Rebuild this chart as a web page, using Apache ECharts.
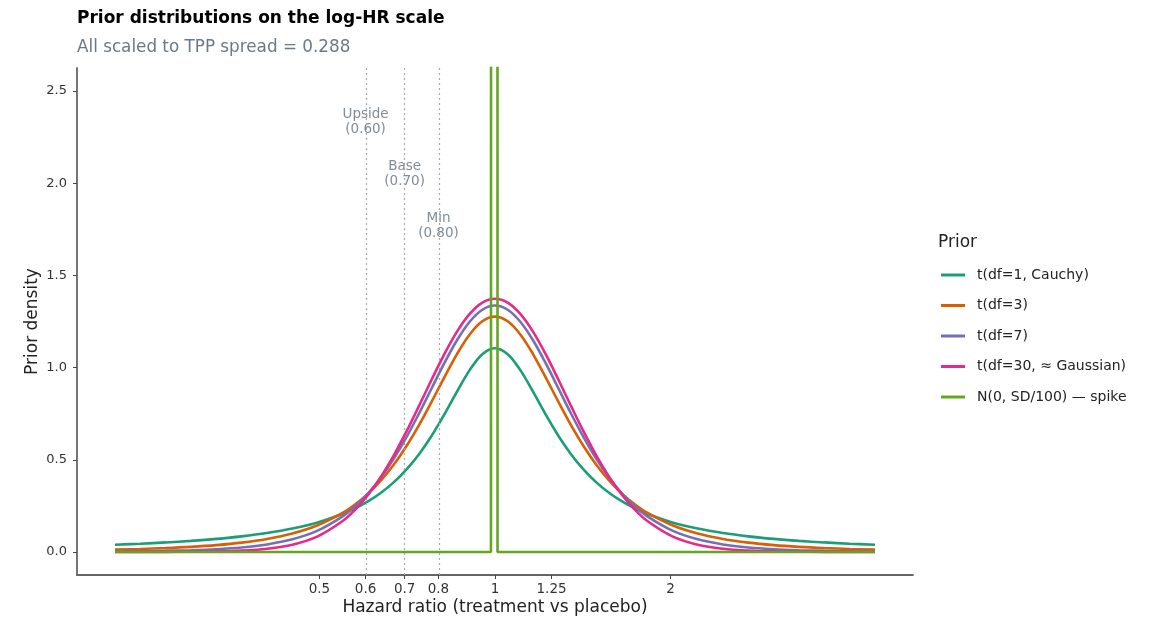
<!DOCTYPE html>
<html>
<head>
<meta charset="utf-8">
<script src="https://cdn.jsdelivr.net/npm/echarts@6/dist/echarts.min.js"></script>
<style>
html,body{margin:0;padding:0;background:#fff;}
#chart{width:1150px;height:619px;}
</style>
</head>
<body>
<div id="chart"></div>
<script>
// x grid on the log-HR scale
const logHR = [-1.5,-1.4,-1.3,-1.2,-1.1,-1.0,-0.9,-0.8,-0.7,-0.6,-0.55,-0.5,-0.45,-0.4,-0.35,-0.3,-0.25,-0.2,-0.15,-0.1,-0.05,0,0.05,0.1,0.15,0.2,0.25,0.3,0.35,0.4,0.45,0.5,0.55,0.6,0.7,0.8,0.9,1.0,1.1,1.2,1.3,1.4,1.5];
const densCauchy = [0.0393,0.0449,0.0517,0.0602,0.0709,0.0847,0.1027,0.1268,0.1600,0.2070,0.2378,0.2753,0.3211,0.3773,0.4462,0.5301,0.6303,0.7456,0.8694,0.9863,1.0729,1.1052,1.0729,0.9863,0.8694,0.7456,0.6303,0.5301,0.4462,0.3773,0.3211,0.2753,0.2378,0.2070,0.1600,0.1268,0.1027,0.0847,0.0709,0.0602,0.0517,0.0449,0.0393];
const densT3 = [0.0127,0.0162,0.0210,0.0277,0.0371,0.0507,0.0705,0.1000,0.1448,0.2132,0.2600,0.3176,0.3880,0.4728,0.5732,0.6884,0.8154,0.9473,1.0735,1.1797,1.2511,1.2764,1.2511,1.1797,1.0735,0.9473,0.8154,0.6884,0.5732,0.4728,0.3880,0.3176,0.2600,0.2132,0.1448,0.1000,0.0705,0.0507,0.0371,0.0277,0.0210,0.0162,0.0127];
const densT7 = [0.0024,0.0037,0.0057,0.0091,0.0148,0.0243,0.0406,0.0684,0.1156,0.1941,0.2498,0.3191,0.4039,0.5049,0.6215,0.7510,0.8880,1.0240,1.1481,1.2484,1.3139,1.3367,1.3139,1.2484,1.1481,1.0240,0.8880,0.7510,0.6215,0.5049,0.4039,0.3191,0.2498,0.1941,0.1156,0.0684,0.0406,0.0243,0.0148,0.0091,0.0057,0.0037,0.0024];
const densT30 = [0.0001,0.0002,0.0005,0.0012,0.0029,0.0073,0.0175,0.0395,0.0847,0.1692,0.2320,0.3114,0.4085,0.5229,0.6522,0.7920,0.9352,1.0729,1.1948,1.2909,1.3525,1.3737,1.3525,1.2909,1.1948,1.0729,0.9352,0.7920,0.6522,0.5229,0.4085,0.3114,0.2320,0.1692,0.0847,0.0395,0.0175,0.0073,0.0029,0.0012,0.0005,0.0002,0.0001];
// spike prior N(0, SD/100)
const spikeX = [-1.5,-0.016,0,0.010,1.5];
const spikeY = [0,0,138.5,0,0];

const seriesNames = ['t(df=1, Cauchy)','t(df=3)','t(df=7)','t(df=30, \u2248 Gaussian)','N(0, SD/100) \u2014 spike'];
const seriesColors = ['#1B9E77','#D95F02','#7570B3','#E7298A','#66A61E'];

// x tick labels (hazard ratio)
const tickHR = [0.5,0.6,0.7,0.8,1,1.25,2];
const tickLabels = ['0.5','0.6','0.7','0.8','1','1.25','2'];
const yTicks = [0,0.5,1,1.5,2,2.5];

// scenario reference lines
const scenHR = [0.6,0.7,0.8];
const scenNames = ['Upside','Base','Min'];
const scenLabels = ['0.60','0.70','0.80'];
const scenLabelY = [2.332,2.048,1.767];

const FONT = 'DejaVu Sans';
const zip = (xs, ys) => xs.map((x,i)=>[x, ys[i]]);
const curves = [densCauchy, densT3, densT7, densT30];

const series = curves.map((d,i)=>({
  name: seriesNames[i], type:'line', data: zip(logHR, d),
  smooth: 0.35, showSymbol:false, symbol:'none',
  lineStyle:{color:seriesColors[i], width:2.6}, itemStyle:{color:seriesColors[i]}, z: 3+i
}));
series.push({
  name: seriesNames[4], type:'line', data: zip(spikeX, spikeY), showSymbol:false, symbol:'none',
  lineStyle:{color:seriesColors[4], width:2.6}, itemStyle:{color:seriesColors[4]}, z: 8, clip:true
});
series.push({
  name:'scenarios', type:'scatter', symbolSize:0, z:2,
  data: scenHR.map((h,i)=>({value:[Math.log(h), scenLabelY[i]], name: scenNames[i], lab: scenLabels[i]})),
  label:{show:true, position:'inside', fontFamily:FONT, fontSize:13.5, color:'#5f6e7b', lineHeight:15,
    formatter: p => p.data.name + '\n(' + p.data.lab + ')'},
  markLine:{silent:true, symbol:'none', label:{show:false},
    lineStyle:{type:[2,3], color:'#a8a8a8', width:1.2},
    data: scenHR.map(h=>({xAxis: Math.log(h)}))}
});

const chart = echarts.init(document.getElementById('chart'), null, {renderer:'canvas'});
chart.setOption({
  animation:false,
  backgroundColor:'#fff',
  title:[
    {text:'Prior distributions on the log-HR scale', left:72, top:5,
     textStyle:{fontFamily:FONT, fontSize:17, fontWeight:'bold', color:'#000'}},
    {text:'All scaled to TPP spread = 0.288', left:72, top:34,
     textStyle:{fontFamily:FONT, fontSize:16.8, fontWeight:'normal', color:'#6b7885'}},
    {text:'Prior', left:933, top:229, textStyle:{fontFamily:FONT, fontSize:17, fontWeight:'normal', color:'#222'}}
  ],
  legend:{
    data: seriesNames, orient:'vertical', left:936, top:262, icon:'rect', itemWidth:24, itemHeight:3,
    itemGap:14.5, textStyle:{fontFamily:FONT, fontSize:14, color:'#222', lineHeight:16, padding:[0,0,0,7]}
  },
  grid:{left:77, right:237, top:68, bottom:44, containLabel:false, outerBoundsMode:'none'},
  xAxis:{
    type:'value', min:-1.65, max:1.65,
    name:'Hazard ratio (treatment vs placebo)', nameLocation:'middle', nameGap:24, nameMoveOverlap:false,
    nameTextStyle:{fontFamily:FONT, fontSize:17, color:'#222'},
    axisLine:{onZero:false, lineStyle:{color:'#666', width:1.8}},
    axisTick:{show:true, length:4, customValues: tickHR.map(Math.log), lineStyle:{color:'#444'}},
    axisLabel:{customValues: tickHR.map(Math.log), fontFamily:FONT, fontSize:13.5, color:'#333', margin:7,
      formatter: v => { const i = tickHR.findIndex(h => Math.abs(Math.log(h)-v) < 1e-6); return i>=0 ? tickLabels[i] : ''; }},
    splitLine:{show:false}
  },
  yAxis:{
    type:'value', min:-0.125, max:2.625,
    name:'Prior density', nameLocation:'middle', nameGap:36, nameRotate:90, nameMoveOverlap:false,
    nameTextStyle:{fontFamily:FONT, fontSize:17, color:'#222'},
    axisLine:{show:true, onZero:false, lineStyle:{color:'#666', width:1.8}},
    axisTick:{show:true, length:4, customValues:yTicks, lineStyle:{color:'#444'}},
    axisLabel:{customValues:yTicks, fontFamily:FONT, fontSize:13, color:'#333', margin:10,
      formatter: v => v.toFixed(1)},
    splitLine:{show:false}
  },
  series: series
});
</script>
</body>
</html>
